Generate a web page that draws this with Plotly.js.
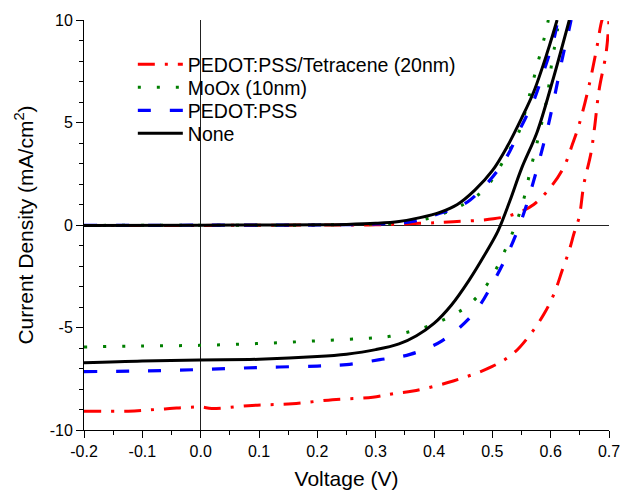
<!DOCTYPE html>
<html>
<head>
<meta charset="utf-8">
<script src="https://cdn.plot.ly/plotly-3.0.1.min.js"></script>
<style>html,body{margin:0;padding:0;background:#fff;}#chart{width:621px;height:492px;}</style>
</head>
<body>
<div id="chart"></div>
<script>
// Series names
const seriesNames = ["PEDOT:PSS/Tetracene (20nm)", "MoOx (10nm)", "PEDOT:PSS", "None"];

// PEDOT:PSS/Tetracene (20nm) - illuminated
const redLightV = [-0.2, -0.124, -0.061, 0, 0.019, 0.088, 0.157, 0.226, 0.295, 0.33, 0.364, 0.433, 0.5, 0.537, 0.566, 0.589, 0.606, 0.62, 0.632, 0.64, 0.649, 0.657, 0.669, 0.675, 0.683, 0.695, 0.70];
const redLightJ = [-9.08, -9.08, -8.97, -8.88, -8.95, -8.8, -8.72, -8.52, -8.4, -8.23, -8.1, -7.61, -6.9, -6.24, -5.3, -4.32, -3.34, -2.2, -1.22, -0.41, 0.41, 2.0, 3.5, 4.7, 6.59, 8.38, 10.0];
// PEDOT:PSS/Tetracene (20nm) - dark
const redDarkV = [-0.2, 0, 0.2, 0.3, 0.376, 0.433, 0.502, 0.54, 0.571, 0.603, 0.623, 0.637, 0.649, 0.666, 0.68, 0.686, 0.69];
const redDarkJ = [-0.02, -0.02, 0, 0.01, 0.08, 0.16, 0.3, 0.55, 1.0, 1.96, 2.85, 3.91, 4.92, 6.83, 8.79, 9.77, 10.2];

// MoOx (10nm) - illuminated
const greenLightV = [-0.2, -0.1, 0, 0.1, 0.2, 0.3, 0.324, 0.359, 0.39, 0.425, 0.457, 0.487, 0.507, 0.522, 0.537, 0.548, 0.557, 0.564, 0.572, 0.58, 0.594, 0.603, 0.609, 0.614];
const greenLightJ = [-5.95, -5.9, -5.87, -5.78, -5.65, -5.5, -5.43, -5.2, -4.94, -4.5, -3.96, -3.06, -2.12, -1.22, -0.2, 0.7, 1.6, 2.53, 3.46, 4.4, 6.26, 8.13, 9.03, 10.0];
// MoOx (10nm) - dark
const greenDarkV = [-0.2, 0, 0.2, 0.3, 0.35, 0.38, 0.41, 0.44, 0.47, 0.491, 0.531, 0.548, 0.557, 0.574, 0.583, 0.591, 0.596];
const greenDarkJ = [-0.02, -0.01, 0, 0.05, 0.12, 0.25, 0.5, 0.85, 1.35, 1.87, 3.75, 4.71, 5.6, 7.48, 8.46, 9.35, 10.0];

// PEDOT:PSS - illuminated
const blueLightV = [-0.2, -0.1, 0, 0.1, 0.2, 0.25, 0.307, 0.359, 0.413, 0.468, 0.502, 0.528, 0.551, 0.568, 0.583, 0.597, 0.609, 0.62, 0.632, 0.635];
const blueLightJ = [-7.15, -7.12, -7.05, -6.95, -6.88, -6.81, -6.57, -6.31, -5.66, -4.32, -2.77, -1.3, 0.33, 1.87, 3.42, 5.0, 6.59, 8.13, 9.6, 10.0];
// PEDOT:PSS - dark
const blueDarkV = [-0.2, 0, 0.2, 0.3, 0.35, 0.38, 0.41, 0.44, 0.462, 0.49, 0.514, 0.53, 0.548, 0.57, 0.589, 0.606, 0.612];
const blueDarkJ = [-0.02, -0.01, 0, 0.05, 0.12, 0.28, 0.57, 0.85, 1.22, 2.0, 2.85, 3.6, 4.71, 6.0, 7.57, 9.11, 10.0];

// None - illuminated
const blackLightV = [-0.2, -0.1, 0, 0.1, 0.2, 0.25, 0.3, 0.34, 0.37, 0.40, 0.43, 0.46, 0.49, 0.51, 0.53, 0.55, 0.577, 0.603, 0.632];
const blackLightJ = [-6.72, -6.63, -6.58, -6.55, -6.42, -6.3, -6.08, -5.8, -5.4, -4.8, -3.9, -2.7, -1.3, -0.27, 1.17, 2.75, 4.55, 7.0, 10.0];
// None - dark
const blackDarkV = [-0.2, 0, 0.1, 0.2, 0.25, 0.3, 0.34, 0.376, 0.41, 0.44, 0.47, 0.50, 0.525, 0.55, 0.571, 0.594, 0.611];
const blackDarkJ = [-0.02, -0.01, 0, 0.01, 0.03, 0.08, 0.17, 0.36, 0.62, 1.0, 1.7, 2.65, 3.8, 5.2, 6.5, 8.4, 10.0];

// Axis ticks
const xTickVals = [-0.2, -0.1, 0.0, 0.1, 0.2, 0.3, 0.4, 0.5, 0.6, 0.7];
const xTickText = ["-0.2", "-0.1", "0.0", "0.1", "0.2", "0.3", "0.4", "0.5", "0.6", "0.7"];
const yTickVals = [-10, -5, 0, 5, 10];
const yTickText = ["-10", "-5", "0", "5", "10"];

const styles = [
  {color: "#ff0000", dash: "17px,10px,3px,10px", width: 3},
  {color: "#007f00", dash: "3px,16px", width: 3},
  {color: "#0000ff", dash: "13px,19px", width: 3.2},
  {color: "#000000", dash: "solid", width: 3}
];

const pairs = [
  [redLightV, redLightJ, redDarkV, redDarkJ],
  [greenLightV, greenLightJ, greenDarkV, greenDarkJ],
  [blueLightV, blueLightJ, blueDarkV, blueDarkJ],
  [blackLightV, blackLightJ, blackDarkV, blackDarkJ]
];

const legendIds = ["legend", "legend2", "legend3", "legend4"];

const traces = [];
pairs.forEach((p, i) => {
  const s = styles[i];
  const line = {color: s.color, dash: s.dash, width: s.width, shape: "spline", smoothing: 1};
  traces.push({x: p[0], y: p[1], mode: "lines", name: seriesNames[i], legend: legendIds[i],
    line: line, hoverinfo: "skip"});
  traces.push({x: p[2], y: p[3], mode: "lines", name: seriesNames[i], legend: legendIds[i], showlegend: false,
    line: line, hoverinfo: "skip"});
});

const font = {family: "Liberation Sans, Arial, sans-serif", color: "#000"};

function legendAt(yPaper) {
  return {x: 0.093, y: yPaper, xanchor: "left", yanchor: "middle", bgcolor: "rgba(0,0,0,0)",
    borderwidth: 0, font: Object.assign({size: 19.5}, font), itemwidth: 45};
}

const layout = {
  width: 621, height: 492,
  margin: {l: 84, r: 12, t: 20, b: 62},
  paper_bgcolor: "#fff", plot_bgcolor: "#fff",
  font: Object.assign({size: 16}, font),
  showlegend: true,
  legend: legendAt(0.8913),
  legend2: legendAt(0.8352),
  legend3: legendAt(0.7790),
  legend4: legendAt(0.7228),
  xaxis: {
    range: [-0.2, 0.7], tickmode: "array", tickvals: xTickVals, ticktext: xTickText,
    ticks: "outside", ticklen: 7, tickwidth: 1, tickcolor: "#000",
    minor: {dtick: 0.05, tick0: -0.2, ticks: "outside", ticklen: 4, tickcolor: "#000", tickwidth: 1, showgrid: false},
    showline: true, linecolor: "#000", linewidth: 1, mirror: false,
    showgrid: false, zeroline: true, zerolinecolor: "#222", zerolinewidth: 1,
    tickfont: Object.assign({size: 16}, font),
    title: {text: "Voltage (V)", font: Object.assign({size: 21}, font), standoff: 12},
    automargin: false, fixedrange: true
  },
  yaxis: {
    range: [-10, 10], tickmode: "array", tickvals: yTickVals, ticktext: yTickText,
    ticks: "outside", ticklen: 7, tickwidth: 1, tickcolor: "#000",
    minor: {dtick: 1, tick0: 0, ticks: "outside", ticklen: 4, tickcolor: "#000", tickwidth: 1, showgrid: false},
    showline: true, linecolor: "#000", linewidth: 1, mirror: false,
    showgrid: false, zeroline: true, zerolinecolor: "#222", zerolinewidth: 1,
    tickfont: Object.assign({size: 16}, font),
    title: {text: "Current Density (mA/cm<sup>2</sup>)", font: Object.assign({size: 21}, font), standoff: 10},
    automargin: false, fixedrange: true
  }
};

Plotly.newPlot("chart", traces, layout, {staticPlot: true, displayModeBar: false});
</script>
</body>
</html>
